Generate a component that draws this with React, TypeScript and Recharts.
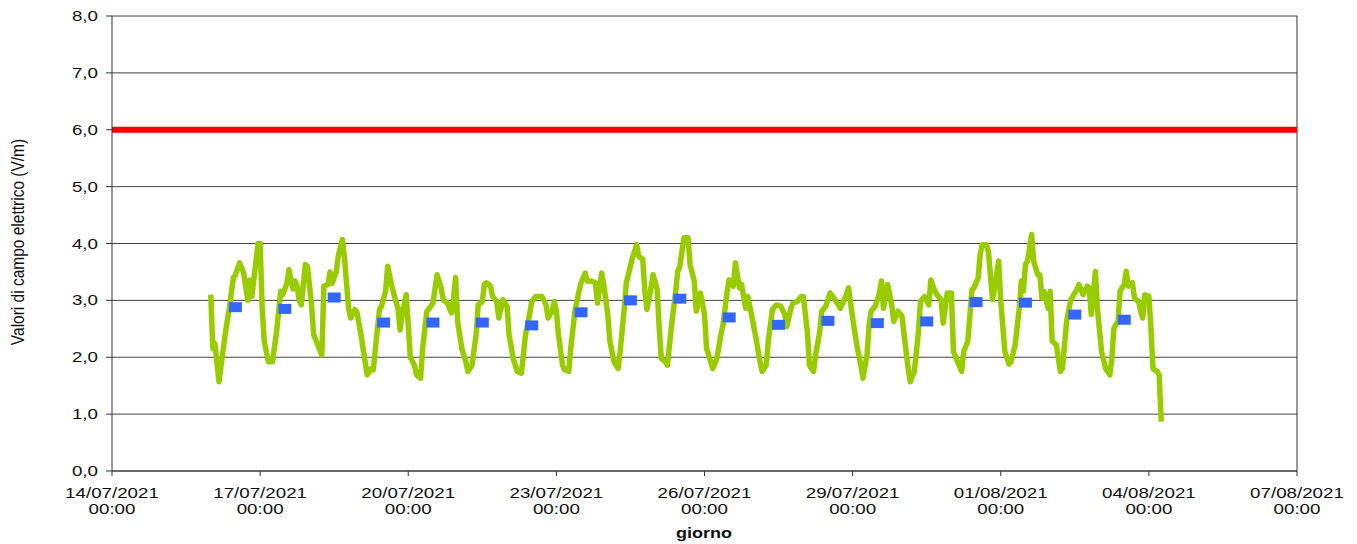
import {
  CartesianGrid,
  ComposedChart,
  Line,
  ReferenceLine,
  Scatter,
  XAxis,
  YAxis,
} from "recharts";

// hours counted from 14/07/2021 00:00
const xTicks = [0, 72, 144, 216, 288, 360, 432, 504, 576];
const xTickDates = [
  "14/07/2021",
  "17/07/2021",
  "20/07/2021",
  "23/07/2021",
  "26/07/2021",
  "29/07/2021",
  "01/08/2021",
  "04/08/2021",
  "07/08/2021",
];
const xTickTime = "00:00";
const yTicks = [0, 1, 2, 3, 4, 5, 6, 7, 8];
const limitValue = 6;

// hourly readings (hour, V/m)
const fieldReadings: [number, number][] = [
  [48, 3.1], [49, 2.16], [50, 2.24], [52, 1.57], [55, 2.4], [57, 2.86], [59, 3.4], [60, 3.45],
  [62, 3.66], [64, 3.48], [66, 3.0], [67, 3.36], [68, 3.07], [69, 3.39], [71, 4.0], [72, 4.0],
  [73, 2.86], [74, 2.28], [76, 1.92], [78, 1.92], [80, 2.45], [82, 3.16], [83, 3.1], [85, 3.3],
  [86, 3.54], [88, 3.2], [89, 3.34], [90, 3.25], [91, 3.0], [92, 2.92], [94, 3.63], [95, 3.6],
  [97, 2.92], [98, 2.4], [100, 2.22], [102, 2.04], [103, 3.25], [105, 3.28], [106, 3.5], [107, 3.3],
  [109, 3.5], [110, 3.78], [112, 4.07], [113, 3.75], [115, 2.86], [116, 2.69], [118, 2.84], [119, 2.8],
  [121, 2.4], [124, 1.69], [126, 1.8], [127, 1.78], [130, 2.84], [131, 2.9], [133, 3.16], [134, 3.6],
  [136, 3.25], [138, 2.98], [139, 2.86], [140, 2.48], [141, 2.75], [143, 3.1], [144, 2.57], [145, 2.0],
  [147, 1.86], [148, 1.69], [150, 1.63], [151, 2.16], [153, 2.8], [155, 2.9], [156, 2.95], [158, 3.45],
  [160, 3.22], [161, 3.01], [163, 2.95], [165, 2.78], [166, 3.04], [167, 3.4], [168, 2.63], [170, 2.16],
  [172, 1.92], [173, 1.75], [175, 1.86], [177, 2.4], [178, 2.92], [180, 2.98], [181, 3.28], [182, 3.31],
  [184, 3.25], [185, 3.07], [187, 2.98], [188, 2.69], [190, 3.01], [192, 2.9], [193, 2.4], [195, 1.98],
  [197, 1.75], [199, 1.72], [201, 2.4], [203, 2.75], [204, 2.98], [206, 3.07], [207, 3.07], [209, 3.07],
  [211, 2.92], [212, 2.69], [214, 2.81], [215, 2.98], [216, 2.81], [217, 2.4], [219, 1.86], [220, 1.78],
  [222, 1.75], [223, 2.16], [225, 2.81], [227, 3.16], [228, 3.31], [230, 3.48], [231, 3.34], [233, 3.34],
  [235, 3.31], [236, 2.95], [238, 3.48], [239, 3.28], [241, 2.75], [242, 2.28], [244, 1.92], [246, 1.8],
  [247, 2.1], [249, 2.86], [250, 3.31], [252, 3.6], [253, 3.75], [254, 3.86], [255, 3.98], [256, 3.78],
  [258, 3.72], [259, 3.16], [260, 2.84], [262, 3.22], [263, 3.45], [265, 3.19], [266, 2.51], [267, 1.98],
  [269, 1.92], [270, 1.86], [272, 2.57], [274, 3.16], [275, 3.51], [276, 3.6], [278, 4.1], [280, 4.1],
  [281, 3.63], [283, 3.34], [284, 2.81], [286, 3.13], [288, 2.75], [289, 2.16], [291, 1.92], [292, 1.8],
  [294, 1.98], [296, 2.4], [297, 2.57], [299, 3.16], [300, 3.36], [302, 3.25], [303, 3.66], [305, 3.22],
  [306, 3.28], [308, 2.86], [309, 3.07], [311, 2.72], [313, 2.34], [315, 1.92], [316, 1.75], [318, 1.86],
  [319, 2.28], [321, 2.84], [323, 2.92], [325, 2.9], [327, 2.75], [328, 2.54], [330, 2.86], [331, 2.95],
  [333, 2.98], [335, 3.07], [336, 3.07], [338, 2.45], [339, 1.86], [341, 1.75], [342, 2.04], [344, 2.45],
  [345, 2.81], [347, 2.9], [349, 3.13], [351, 3.04], [353, 2.92], [354, 2.86], [357, 3.1], [358, 3.22],
  [360, 2.69], [362, 2.22], [363, 2.04], [364, 1.86], [365, 1.63], [367, 2.04], [368, 2.57], [369, 2.81],
  [371, 2.9], [373, 3.13], [374, 3.34], [375, 2.86], [377, 3.28], [379, 2.92], [380, 2.63], [382, 2.81],
  [384, 2.72], [385, 2.4], [387, 1.8], [388, 1.57], [390, 1.75], [392, 2.45], [393, 2.98], [395, 3.07],
  [397, 2.92], [398, 3.36], [400, 3.16], [401, 3.1], [403, 3.01], [404, 2.6], [406, 3.13], [408, 3.13],
  [409, 2.1], [411, 1.92], [413, 1.75], [414, 2.1], [416, 2.28], [418, 3.19], [419, 3.22], [421, 3.39],
  [422, 3.81], [423, 3.98], [425, 3.98], [426, 3.86], [428, 3.01], [429, 3.22], [431, 3.69], [432, 2.98],
  [434, 2.1], [436, 1.88], [437, 1.92], [439, 2.22], [441, 2.86], [442, 3.34], [443, 3.16], [444, 3.63],
  [445, 3.69], [447, 4.16], [448, 3.69], [450, 3.45], [451, 3.45], [452, 3.04], [453, 3.16], [455, 2.86],
  [456, 3.16], [457, 2.28], [459, 2.22], [460, 1.98], [461, 1.75], [462, 1.8], [464, 2.63], [466, 3.01],
  [467, 3.07], [469, 3.19], [470, 3.28], [472, 3.1], [474, 3.25], [475, 3.22], [476, 2.75], [478, 3.51],
  [479, 2.86], [481, 2.1], [483, 1.8], [485, 1.69], [486, 1.98], [487, 2.51], [489, 2.63], [490, 3.16],
  [492, 3.28], [493, 3.51], [494, 3.25], [496, 3.31], [497, 3.04], [499, 2.98], [500, 2.81], [501, 2.69],
  [502, 3.1], [504, 3.07], [505, 2.51], [506, 1.8], [508, 1.75], [509, 1.69], [510, 0.87],
];

// daily averages, plotted at 12:00
const avgHours = [60, 84, 108, 132, 156, 180, 204, 228, 252, 276, 300, 324, 348, 372, 396, 420, 444, 468, 492];
const avgValues = [2.88, 2.85, 3.05, 2.61, 2.61, 2.61, 2.56, 2.79, 3.0, 3.03, 2.7, 2.57, 2.64, 2.6, 2.63, 2.97, 2.96, 2.75, 2.66];

const fieldData = fieldReadings.map(([t, v]) => ({ t, v }));
const avgData = avgHours.map((t, i) => ({ t, v: avgValues[i] }));

const FONT = "'Liberation Sans', Arial, sans-serif";

const DateTick = ({ x, payload }: any) => {
  const i = xTicks.indexOf(payload.value);
  return (
    <g transform={`translate(${x},0) scale(1.25,1)`}>
      <text textAnchor="middle" fontFamily={FONT} fontSize={15} fill="#111">
        <tspan x={0} y={498}>{xTickDates[i]}</tspan>
        <tspan x={0} y={514}>{xTickTime}</tspan>
      </text>
    </g>
  );
};

const ValueTick = ({ y, payload }: any) => (
  <g transform={`translate(98,${y + 5}) scale(1.25,1)`}>
    <text textAnchor="end" fontFamily={FONT} fontSize={15} fill="#111">
      {payload.value.toFixed(1).replace(".", ",")}
    </text>
  </g>
);

const AvgMark = (p: any) => (
  <rect x={p.cx - 6.5} y={p.cy - 5} width={13} height={10} fill="#3366ff" />
);

export default function App() {
  return (
    <div style={{ width: 1357, height: 544, overflow: "hidden" }}>
      <style>{"body{margin:0;overflow:hidden;background:#fff}"}</style>
      <ComposedChart
        width={1357}
        height={544}
        margin={{ top: 16, right: 60, left: 0, bottom: 0 }}
      >
        <CartesianGrid vertical={false} stroke="#444" strokeWidth={1} />
        <XAxis
          type="number"
          dataKey="t"
          domain={[0, 576]}
          ticks={xTicks}
          interval={0}
          height={73}
          tick={<DateTick />}
          tickSize={5}
          axisLine={{ stroke: "#333" }}
          tickLine={{ stroke: "#333" }}
        />
        <YAxis
          type="number"
          domain={[0, 8]}
          ticks={yTicks}
          interval={0}
          width={112}
          tick={<ValueTick />}
          tickSize={6}
          axisLine={{ stroke: "#333" }}
          tickLine={{ stroke: "#333" }}
        />
        <ReferenceLine x={576} stroke="#333" />
        <ReferenceLine y={limitValue} stroke="#ff0000" strokeWidth={6} />
        <Line
          data={fieldData}
          dataKey="v"
          type="linear"
          stroke="#99cc00"
          strokeWidth={5.5}
          strokeLinejoin="round"
          dot={false}
          activeDot={false}
          isAnimationActive={false}
        />
        <Scatter
          data={avgData}
          dataKey="v"
          shape={AvgMark}
          isAnimationActive={false}
        />
        <text
          transform="translate(24,242) rotate(-90) scale(1,1.2)"
          textAnchor="middle"
          fontFamily={FONT}
          fontSize={15.5}
          fill="#111"
        >
          Valori di campo elettrico (V/m)
        </text>
        <text
          transform="translate(704,538) scale(1.2,1)"
          textAnchor="middle"
          fontFamily={FONT}
          fontSize={15}
          fontWeight="bold"
          fill="#111"
        >
          giorno
        </text>
      </ComposedChart>
    </div>
  );
}
